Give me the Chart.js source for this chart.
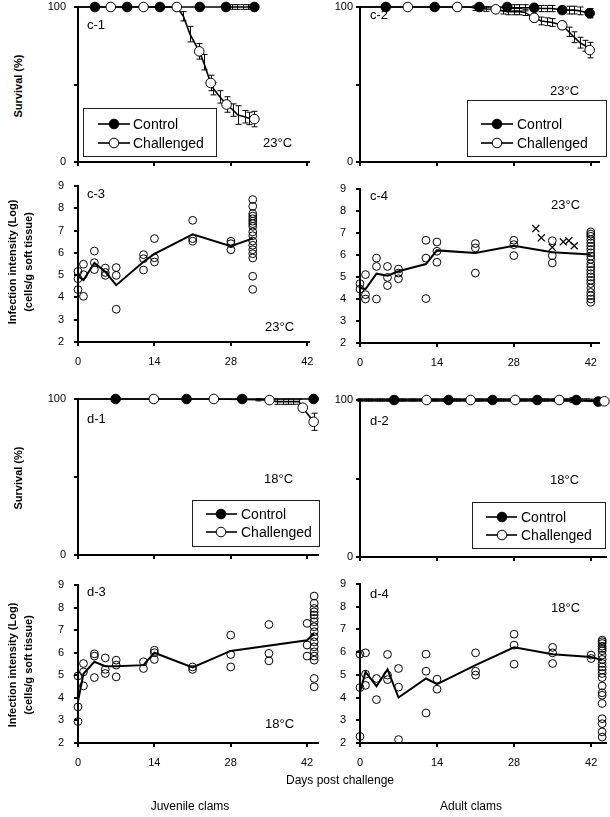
<!DOCTYPE html>
<html><head><meta charset="utf-8">
<script src="https://cdn.jsdelivr.net/npm/chart.js@4.4.1/dist/chart.umd.min.js"></script>
<style>
html,body{margin:0;padding:0;background:#fff;}
body{width:610px;height:817px;position:relative;overflow:hidden;font-family:"Liberation Sans",Arial,Helvetica,sans-serif;color:#000;}
canvas{position:absolute;}
.t{position:absolute;white-space:nowrap;line-height:16px;font-size:13px;}
.lt{position:absolute;white-space:nowrap;line-height:16px;font-size:14px;}
.rot{position:absolute;white-space:nowrap;font-weight:bold;font-size:11px;line-height:13px;transform:translate(-50%,-50%) rotate(-90deg);}
.leg{position:absolute;border:1.5px solid #222;box-sizing:border-box;background:#fff;}
#glyphs{position:absolute;left:0;top:0;}
</style></head><body>
<script>
// ---------- axis ticks ----------
const dayTicks = [0, 14, 28, 42];
const survTicks = [0, 50, 100];
const logTicks = [2, 3, 4, 5, 6, 7, 8, 9];

// ---------- c-1 : juvenile survival, 23°C ----------
const c1CtrlDays = [0, 3.1, 9, 15, 22.3, 27.1, 28.2, 29.2, 30.2, 31.2, 32.3];
const c1CtrlSurv = [100, 100, 100, 100, 100, 100, 100, 100, 100, 100, 100];
const c1CtrlErr  = [0, 0, 0, 0, 0, 0, 1.5, 1.5, 1.5, 1.5, 0];
const c1CtrlMark = [3.1, 9, 15, 22.3, 27.1, 32.3];
const c1ChalDays = [0, 6, 12, 18.1, 19.3, 20.5, 22.2, 23, 24.3, 24.8, 26, 27.2, 28.4, 29.3, 30.5, 31.4, 32.3];
const c1ChalSurv = [100, 100, 100, 100, 94, 82.5, 71.4, 64.4, 51, 47.3, 42, 37.1, 33.5, 30.3, 29.2, 28.1, 27.7];
const c1ChalErr  = [0, 0, 0, 0, 3, 5, 5, 5, 5, 4, 4, 5, 4, 6, 4, 4, 5];
const c1ChalMark = [6, 12, 18.1, 22.2, 24.3, 27.2, 32.3];

// ---------- c-2 : adult survival, 23°C ----------
const c2CtrlDays = [0, 4.7, 13.6, 21.7, 26.8, 28, 29, 30, 31.7, 33, 34, 35, 36.8, 38, 39, 40, 41.8];
const c2CtrlSurv = [100, 100, 100, 100, 100, 99.5, 99.5, 99.5, 99.5, 99, 99, 99, 98, 98, 98, 97.5, 96];
const c2CtrlErr  = [0, 0, 0, 0, 0, 2, 2, 2, 2, 2, 2, 2, 2, 2.5, 2.5, 2.5, 3];
const c2CtrlMark = [4.7, 13.6, 21.7, 26.8, 31.7, 36.8, 41.8];
const c2ChalDays = [0, 8.7, 17.7, 20, 21, 22, 23, 24.7, 26, 27, 28, 29, 30, 31.7, 33, 34, 35, 36.8, 38, 39, 40, 41, 41.8];
const c2ChalSurv = [100, 100, 100, 100, 99.3, 99, 98.7, 98.5, 97.5, 97, 97, 97, 96.5, 93, 91, 90.5, 90, 88.2, 84, 80.5, 77, 75, 72.2];
const c2ChalErr  = [0, 0, 0, 0, 1.5, 1.5, 1.5, 1.5, 2, 2, 2, 2, 2, 2.5, 2.5, 2.5, 2.5, 2.5, 3, 3.5, 3.5, 3.5, 5];
const c2ChalMark = [8.7, 17.7, 24.7, 31.7, 36.8, 41.8];

// ---------- d-1 : juvenile survival, 18°C ----------
const d1CtrlDays = [0, 6.9, 19.9, 30.1, 43.2];
const d1CtrlSurv = [100, 100, 100, 100, 100];
const d1CtrlErr  = [0, 0, 0, 0, 0];
const d1CtrlMark = [6.9, 19.9, 30.1, 43.2];
const d1ChalDays = [0, 13.9, 24.9, 33, 35.1, 36.5, 37.5, 38.5, 39.5, 40.5, 41.2, 43.2];
const d1ChalSurv = [100, 100, 100, 99.5, 99.3, 98.3, 98.3, 98.3, 98.3, 98.3, 94.4, 85.4];
const d1ChalErr  = [0, 0, 0, 0.7, 0.7, 1.7, 1.7, 1.7, 1.7, 1.7, 2, 5.5];
const d1ChalMark = [13.9, 24.9, 35.1, 41.2, 43.2];

// ---------- d-2 : adult survival, 18°C ----------
const d2CtrlDays = [0, 6.2, 16.1, 24.1, 32.2, 38.5, 39.3, 43.3];
const d2CtrlSurv = [100, 100, 100, 100, 100, 100, 100, 99];
const d2CtrlErr  = [0, 0, 0, 0, 0, 1.5, 0, 0];
const d2CtrlMark = [6.2, 16.1, 24.1, 32.2, 39.3, 43.3];
const d2ChalDays = [0, 1, 2, 3, 4, 5, 6, 7, 8, 9, 10, 11, 12.1, 13, 14, 15, 16, 17, 18, 19, 20.1, 21, 22, 23, 24, 25, 26, 27, 28.2, 29, 30, 31, 32, 33, 34, 35, 36.2, 37, 38, 39, 40, 41, 42, 43, 44.4];
const d2ChalSurv = [100, 100, 100, 100, 100, 100, 100, 100, 100, 100, 100, 100, 100, 100, 100, 100, 100, 100, 100, 100, 100, 100, 100, 100, 100, 100, 100, 100, 100, 100, 100, 100, 100, 100, 100, 100, 100, 100, 100, 100, 100, 100, 99.8, 99.6, 99.2];
const d2ChalErr  = [0.8, 0.8, 0.8, 0.8, 0.8, 0.8, 0.8, 0.8, 0.8, 0.8, 0.8, 0.8, 0, 0.8, 0.8, 0.8, 0.8, 0.8, 0.8, 0.8, 0, 0.8, 0.8, 0.8, 0.8, 0.8, 0.8, 0.8, 0, 0.8, 0.8, 0.8, 0.8, 0.8, 0.8, 0.8, 0, 0.8, 0.8, 0.8, 0.8, 0.8, 0.8, 0.8, 0];
const d2ChalMark = [12.1, 20.1, 28.2, 36.2, 44.4];

// ---------- c-3 : juvenile infection, 23°C ----------
const c3PtDays = [0, 0, 0, 1, 1, 1, 3, 3, 3, 5, 5, 5, 7, 7, 7, 12, 12, 12, 14, 14, 14, 21, 21, 21, 28, 28, 28,
  32, 32, 32, 32, 32, 32, 32, 32, 32, 32, 32, 32, 32, 32, 32, 32, 32];
const c3PtLog = [5.17, 4.84, 4.35, 5.49, 5.02, 4.05, 6.08, 5.56, 5.25, 5.32, 5.12, 4.99, 5.34, 4.99, 3.47,
  5.92, 5.74, 5.23, 6.64, 5.78, 5.59, 7.46, 6.64, 6.52, 6.52, 6.41, 6.14,
  8.39, 8.09, 7.76, 7.65, 7.53, 7.42, 7.31, 7.19, 6.94, 6.77, 6.53, 6.34, 6.14, 5.96, 5.77, 4.95, 4.36];
const c3MeanDays = [0, 1, 3, 5, 7, 12, 14, 21, 28, 32];
const c3MeanLog  = [4.95, 4.78, 5.55, 5.15, 4.55, 5.6, 5.95, 6.83, 6.3, 6.65];

// ---------- c-4 : adult infection, 23°C ----------
const c4PtDays = [0, 0, 1, 1, 1, 3, 3, 3, 5, 5, 5, 7, 7, 7, 12, 12, 12, 14, 14, 14, 21, 21, 21, 28, 28, 28, 35, 35, 35,
  42, 42, 42, 42, 42, 42, 42, 42, 42, 42, 42, 42, 42, 42, 42, 42, 42, 42, 42, 42, 42, 42];
const c4PtLog = [4.7, 4.45, 5.11, 4.2, 4.0, 5.86, 5.48, 4.0, 5.48, 4.98, 4.61, 5.36, 5.18, 4.92, 6.67, 5.86, 4.02,
  6.59, 6.17, 5.67, 6.52, 6.32, 5.18, 6.67, 6.47, 5.97, 6.65, 5.97, 5.64,
  7.05, 6.95, 6.85, 6.7, 6.55, 6.4, 6.25, 6.1, 5.95, 5.8, 5.6, 5.45, 5.3, 5.15, 5.0, 4.85, 4.7, 4.5, 4.3, 4.15, 4.0, 3.85];
const c4DeadDays = [32, 33, 35, 37, 38, 39];
const c4DeadLog  = [7.2, 6.78, 6.35, 6.6, 6.65, 6.42];
const c4MeanDays = [0, 1, 3, 5, 7, 12, 14, 21, 28, 35, 42];
const c4MeanLog  = [4.5, 4.45, 5.15, 5.06, 5.26, 5.59, 6.21, 6.09, 6.42, 6.12, 6.02];

// ---------- d-3 : juvenile infection, 18°C ----------
const d3PtDays = [0, 0, 0, 1, 1, 1, 3, 3, 3, 5, 5, 5, 7, 7, 7, 12, 12, 14, 14, 14, 21, 21, 28, 28, 28, 35, 35, 35, 42, 42, 42,
  43.3, 43.3, 43.3, 43.3, 43.3, 43.3, 43.3, 43.3, 43.3, 43.3, 43.3, 43.3, 43.3, 43.3, 43.3, 43.3, 43.3];
const d3PtLog = [4.97, 3.6, 2.95, 5.52, 5.15, 4.53, 5.95, 5.85, 4.9, 5.77, 5.26, 5.08, 5.67, 5.45, 4.93,
  5.6, 5.3, 6.11, 6.0, 5.7, 5.37, 5.26, 6.78, 5.92, 5.37, 7.25, 5.97, 5.64, 7.3, 6.34, 5.85,
  8.51, 8.19, 7.96, 7.81, 7.67, 7.52, 7.37, 7.15, 6.93, 6.71, 6.48, 6.26, 6.04, 5.85, 5.67, 4.86, 4.49];
const d3MeanDays = [0, 1, 3, 5, 7, 12, 14, 21, 28, 42, 43.3];
const d3MeanLog  = [3.85, 5.07, 5.6, 5.4, 5.4, 5.45, 6.0, 5.35, 6.08, 6.55, 6.85];

// ---------- d-4 : adult infection, 18°C ----------
const d4PtDays = [0, 0, 0, 1, 1, 1, 3, 3, 5, 5, 5, 7, 7, 7, 12, 12, 12, 14, 14, 21, 21, 21, 28, 28, 28, 35, 35, 35, 42, 42,
  44, 44, 44, 44, 44, 44, 44, 44, 44, 44, 44, 44, 44, 44, 44, 44, 44, 44, 44, 44, 44];
const d4PtLog = [5.91, 4.44, 2.29, 5.97, 5.03, 4.54, 4.84, 3.91, 5.9, 4.99, 4.79, 5.28, 4.46, 2.15, 5.91, 5.16, 3.32,
  4.81, 4.37, 5.97, 5.16, 4.99, 6.79, 6.31, 5.47, 6.21, 5.97, 5.5, 5.87, 5.72,
  6.53, 6.46, 6.38, 6.26, 6.16, 6.06, 5.87, 5.68, 5.5, 5.35, 5.21, 5.06, 4.88, 4.51, 4.21, 4.1, 3.74, 3.07, 2.85, 2.49, 2.26];
const d4MeanDays = [0, 1, 3, 5, 7, 12, 14, 21, 28, 35, 42, 44];
const d4MeanLog  = [4.25, 5.13, 4.5, 5.24, 4.0, 4.84, 4.59, 5.43, 6.21, 5.91, 5.79, 5.65];

// ================= drawing =================
Chart.defaults.font.family = '"Liberation Sans", Arial, Helvetica, sans-serif';
Chart.defaults.color = '#000';

const errorBars = {
  id: 'errorBars',
  beforeDatasetsDraw(chart) {
    const ctx = chart.ctx, xs = chart.scales.x, ys = chart.scales.y;
    chart.data.datasets.forEach(ds => {
      if (!ds.errors) return;
      ctx.save();
      ctx.strokeStyle = '#000';
      ctx.lineWidth = 1;
      ds.data.forEach((p, i) => {
        const e = ds.errors[i];
        if (!e) return;
        const px = Math.round(xs.getPixelForValue(p.x)) + 0.5;
        const y1 = ys.getPixelForValue(p.y + e), y2 = ys.getPixelForValue(p.y - e);
        ctx.beginPath();
        ctx.moveTo(px, y1); ctx.lineTo(px, y2);
        ctx.moveTo(px - 3, y1); ctx.lineTo(px + 3, y1);
        ctx.moveTo(px - 3, y2); ctx.lineTo(px + 3, y2);
        ctx.stroke();
      });
      ctx.restore();
    });
  }
};

const pts = (xs, ys) => xs.map((x, i) => ({ x: x, y: ys[i] }));

function survSet(days, vals, errs, marks, filled) {
  return {
    type: 'line', data: pts(days, vals), errors: errs,
    borderColor: '#000', borderWidth: 1.6, tension: 0, clip: false,
    pointRadius: days.map(d => marks.includes(d) ? 4.8 : 0),
    pointBackgroundColor: filled ? '#000' : '#fff', pointBorderColor: '#000', pointBorderWidth: 1
  };
}
function meanSet(days, vals) {
  return { type: 'line', data: pts(days, vals), borderColor: '#000', borderWidth: 2, pointRadius: 0, tension: 0, clip: false };
}
function dotSet(days, vals) {
  return { type: 'line', showLine: false, data: pts(days, vals), pointRadius: 3.9,
    pointBackgroundColor: 'rgba(255,255,255,0)', pointBorderColor: '#000', pointBorderWidth: 1, clip: false };
}
function crossSet(days, vals) {
  return { type: 'line', showLine: false, data: pts(days, vals), pointStyle: 'crossRot', pointRadius: 5,
    pointBorderColor: '#000', pointBorderWidth: 1.3, clip: false };
}

function panel(cfg) {
  const padL = 50, padT = 8, padR = 14, padB = 30;
  const plotW = Math.round(cfg.x0 + cfg.ppd * cfg.xmax) - cfg.x0;
  const plotH = cfg.bottom - cfg.top;
  const c = document.createElement('canvas');
  c.width = padL + plotW + padR;
  c.height = padT + plotH + padB;
  c.style.left = (cfg.x0 - padL) + 'px';
  c.style.top = (cfg.top - padT) + 'px';
  document.body.appendChild(c);
  const axisGrid = { display: true, drawOnChartArea: false, drawTicks: true, tickLength: 4, color: '#000', lineWidth: 2 };
  const axisBorder = { display: true, color: '#000', width: 2 };
  new Chart(c, {
    type: 'line',
    data: { datasets: cfg.datasets },
    options: {
      responsive: false, animation: false, devicePixelRatio: 1,
      layout: { padding: { left: 0, top: padT, right: padR, bottom: 0 } },
      plugins: { legend: { display: false }, tooltip: { enabled: false } },
      scales: {
        x: {
          type: 'linear', min: 0, max: cfg.xmax,
          afterBuildTicks: s => { s.ticks = dayTicks.map(v => ({ value: v })); },
          afterFit: s => { s.height = padB; s.paddingLeft = 0; s.paddingRight = 0; },
          ticks: { display: cfg.xLabels, padding: 9, font: { size: 11 }, color: '#000', maxRotation: 0, autoSkip: false },
          grid: axisGrid, border: axisBorder
        },
        y: {
          type: 'linear', min: cfg.ymin, max: cfg.ymax,
          afterBuildTicks: s => { s.ticks = cfg.yTicks.map(v => ({ value: v })); },
          afterFit: s => { s.width = padL; s.paddingTop = 0; s.paddingBottom = 0; },
          ticks: { padding: cfg.yPad, font: { size: 11 }, color: '#000',
            callback: v => (cfg.survival && v === 50) ? '' : String(v) },
          grid: axisGrid, border: axisBorder
        }
      }
    },
    plugins: [errorBars]
  });
}

const LX0 = 78, LPPD = 5.464, RX0 = 360, RPPD = 5.5;
const survL = { ymin: 0, ymax: 100, yTicks: survTicks, yPad: 8, survival: true, xLabels: false };
const survR = { ymin: 0, ymax: 100, yTicks: survTicks, yPad: 3, survival: true, xLabels: false };
const infe = { ymin: 2, ymax: 9, yTicks: logTicks, yPad: 10, survival: false, xLabels: true };

panel(Object.assign({}, survL, { x0: LX0, ppd: LPPD, xmax: 42.3, top: 7, bottom: 162, datasets: [
  survSet(c1ChalDays, c1ChalSurv, c1ChalErr, c1ChalMark, false),
  survSet(c1CtrlDays, c1CtrlSurv, c1CtrlErr, c1CtrlMark, true)] }));
panel(Object.assign({}, survR, { x0: RX0, ppd: RPPD, xmax: 43.5, top: 7, bottom: 162, datasets: [
  survSet(c2ChalDays, c2ChalSurv, c2ChalErr, c2ChalMark, false),
  survSet(c2CtrlDays, c2CtrlSurv, c2CtrlErr, c2CtrlMark, true)] }));
panel(Object.assign({}, infe, { x0: LX0, ppd: LPPD, xmax: 42.3, top: 186, bottom: 342, datasets: [
  meanSet(c3MeanDays, c3MeanLog), dotSet(c3PtDays, c3PtLog)] }));
panel(Object.assign({}, infe, { x0: RX0, ppd: RPPD, xmax: 43.5, top: 189, bottom: 343, datasets: [
  meanSet(c4MeanDays, c4MeanLog), dotSet(c4PtDays, c4PtLog), crossSet(c4DeadDays, c4DeadLog)] }));
panel(Object.assign({}, survL, { x0: LX0, ppd: LPPD, xmax: 44, top: 399, bottom: 555, datasets: [
  survSet(d1ChalDays, d1ChalSurv, d1ChalErr, d1ChalMark, false),
  survSet(d1CtrlDays, d1CtrlSurv, d1CtrlErr, d1CtrlMark, true)] }));
panel(Object.assign({}, survR, { x0: RX0, ppd: RPPD, xmax: 44.7, top: 400, bottom: 557, datasets: [
  survSet(d2ChalDays, d2ChalSurv, d2ChalErr, d2ChalMark, false),
  survSet(d2CtrlDays, d2CtrlSurv, d2CtrlErr, d2CtrlMark, true)] }));
panel(Object.assign({}, infe, { x0: LX0, ppd: LPPD, xmax: 44, top: 585, bottom: 743, datasets: [
  meanSet(d3MeanDays, d3MeanLog), dotSet(d3PtDays, d3PtLog)] }));
panel(Object.assign({}, infe, { x0: RX0, ppd: RPPD, xmax: 44.7, top: 584, bottom: 743, datasets: [
  meanSet(d4MeanDays, d4MeanLog), dotSet(d4PtDays, d4PtLog)] }));

// ---------- text ----------
function txt(cls, s, left, cy, extra) {
  const d = document.createElement('div');
  d.className = cls; d.textContent = s;
  d.style.left = left + 'px'; d.style.top = (cy - 8) + 'px';
  if (extra) Object.assign(d.style, extra);
  document.body.appendChild(d);
  return d;
}
function rot(s, cx, cy) {
  const d = document.createElement('div');
  d.className = 'rot'; d.textContent = s;
  d.style.left = cx + 'px'; d.style.top = cy + 'px';
  document.body.appendChild(d);
}
[['c-1', 87, 25], ['c-2', 370, 15], ['c-3', 87, 194], ['c-4', 370, 196],
 ['d-1', 87, 419], ['d-2', 370, 421], ['d-3', 87, 592], ['d-4', 370, 594]].forEach(a => txt('t', a[0], a[1], a[2]));
[['23°C', 263, 143], ['23°C', 550, 91], ['23°C', 265, 327], ['23°C', 551, 205],
 ['18°C', 264, 479], ['18°C', 550, 480], ['18°C', 265, 724], ['18°C', 551, 608]].forEach(a => txt('t', a[0], a[1], a[2]));

rot('Survival (%)', 18, 86);
rot('Survival (%)', 18, 478);
rot('Infection intensity (Log)', 12, 262);
rot('(cells/g soft tissue)', 28, 262);
rot('Infection intensity (Log)', 12, 665);
rot('(cells/g soft tissue)', 28, 665);

txt('t', 'Days post challenge', 340, 780, { fontSize: '12px', transform: 'translateX(-50%)' });
txt('t', 'Juvenile clams', 190, 806, { fontSize: '12px', transform: 'translateX(-50%)' });
txt('t', 'Adult clams', 471, 806, { fontSize: '12px', transform: 'translateX(-50%)' });

// ---------- legends ----------
const legends = [
  { box: [83, 108, 134, 49], rows: [124, 143], g: [98, 130, 114], tx: 133 },
  { box: [467, 100, 140, 57], rows: [124, 143], g: [481, 513, 497], tx: 517 },
  { box: [192, 500, 128, 47], rows: [514, 532], g: [206, 237, 221], tx: 241 },
  { box: [472, 502, 134, 47], rows: [517, 535], g: [486, 517, 502], tx: 521 }
];
const legendNames = ['Control', 'Challenged'];
const legendFill = ['#000', '#fff'];
const NS = 'http://www.w3.org/2000/svg';
legends.forEach(L => {
  const b = document.createElement('div');
  b.className = 'leg';
  b.style.left = L.box[0] + 'px'; b.style.top = L.box[1] + 'px';
  b.style.width = L.box[2] + 'px'; b.style.height = L.box[3] + 'px';
  document.body.appendChild(b);
});
const svg = document.createElementNS(NS, 'svg');
svg.setAttribute('id', 'glyphs'); svg.setAttribute('width', 610); svg.setAttribute('height', 817);
document.body.appendChild(svg);
legends.forEach(L => {
  L.rows.forEach((y, i) => {
    const ln = document.createElementNS(NS, 'line');
    ln.setAttribute('x1', L.g[0]); ln.setAttribute('x2', L.g[1]);
    ln.setAttribute('y1', y); ln.setAttribute('y2', y);
    ln.setAttribute('stroke', '#000'); ln.setAttribute('stroke-width', 1.6);
    svg.appendChild(ln);
    const ci = document.createElementNS(NS, 'circle');
    ci.setAttribute('cx', L.g[2]); ci.setAttribute('cy', y); ci.setAttribute('r', 4.8);
    ci.setAttribute('fill', legendFill[i]); ci.setAttribute('stroke', '#000'); ci.setAttribute('stroke-width', 1);
    svg.appendChild(ci);
    txt('lt', legendNames[i], L.tx, y);
  });
});
</script>
</body></html>
